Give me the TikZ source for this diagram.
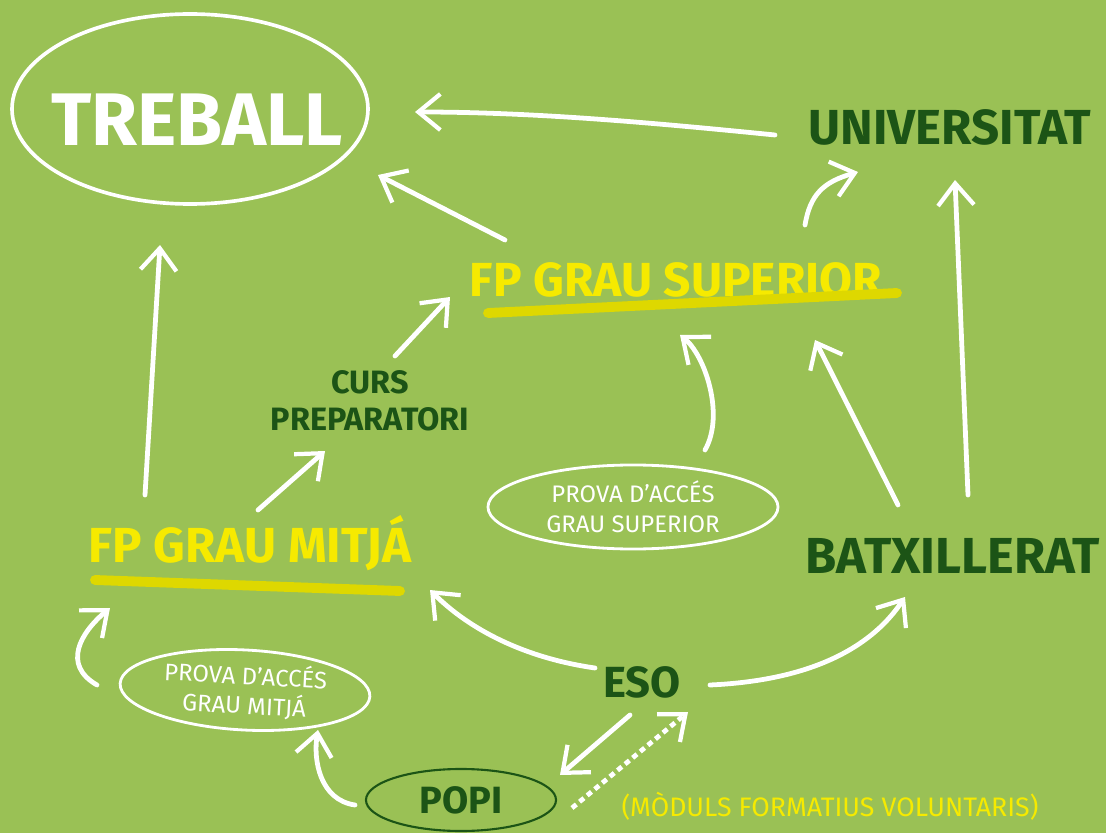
\documentclass[tikz,border=0pt]{standalone}
\usepackage{fontspec}
\setmainfont{Fira Sans}
\usetikzlibrary{arrows.meta,shapes.geometric}
\definecolor{pissarra}{RGB}{154,193,85}
\definecolor{fosc}{RGB}{28,84,22}
\definecolor{groc}{RGB}{246,234,0}
\definecolor{subratlla}{RGB}{222,216,0}

\begin{document}
\begin{tikzpicture}[x=0.025cm,y=-0.025cm]%
  \tikzstyle{fletxa}=[draw=white,line width=3.4pt,line cap=round,
    -{Straight Barb[length=5.5mm,width=9mm,line width=3pt]}]
  \tikzstyle{puntejat}=[fletxa,dash pattern=on 4pt off 3pt,line cap=butt]
  \tikzstyle{elip}=[ellipse,draw=white,line width=2pt,text=white,align=center,inner sep=0]
  \tikzstyle{verd}=[text=fosc,font=\bfseries]
  \tikzstyle{groga}=[text=groc,font=\bfseries]
  \useasboundingbox (0,0) rectangle (1106,833);
  \fill[pissarra] (0,0) rectangle (1106,833);
  % nodes
  \node(trb)[text=white,font=\bfseries\fontsize{53}{53}\selectfont] at (197,120) {TREBALL};
  \draw[white,line width=2.6pt] ([shift={(-7,-11)}]trb.center) ellipse [x radius=178,y radius=95];
  \node(uni)[verd,font=\bfseries\fontsize{35}{35}\selectfont] at (950,127) {UNIVERSITAT};
  \node(sup)[groga,font=\bfseries\fontsize{34}{34}\selectfont] at (676,280) {FP GRAU SUPERIOR};
  \node(curs)[verd,align=center,font=\bfseries\fontsize{23}{26}\selectfont] at (370,401) {CURS\\PREPARATORI};
  \node(mit)[groga,font=\bfseries\fontsize{35}{35}\selectfont] at (250,543) {FP GRAU MITJÁ};
  \node(pgs)[elip,minimum width=7.25cm,minimum height=2.1cm,font=\fontsize{17}{21}\selectfont] at (633,507) {PROVA D'ACCÉS\\GRAU SUPERIOR};
  \node(bat)[verd,font=\bfseries\fontsize{36}{36}\selectfont] at (953,556) {BATXILLERAT};
  \node(pgm)[elip,rotate=-3,minimum width=6.25cm,minimum height=2cm,font=\fontsize{17}{21}\selectfont] at (245,690) {PROVA D'ACCÉS\\GRAU MITJÁ};
  \node(eso)[verd,font=\bfseries\fontsize{31}{31}\selectfont] at (642,682) {ESO};
  \node(popi)[ellipse,draw=fosc,line width=1.5pt,minimum width=4.75cm,minimum height=1.55cm,verd,font=\bfseries\fontsize{27}{27}\selectfont] at (461,800) {POPI};
  \node(mod)[groga,font=\fontsize{19}{19}\selectfont] at (830,806) {(MÒDULS FORMATIUS VOLUNTARIS)};
  % subratllats
  \draw[subratlla,line width=7pt,line cap=round] (488,313) -- (897,293);
  \draw[subratlla,line width=7pt,line cap=round] (95,580) -- (400,591);
  % fletxes
  \draw[fletxa] ([shift={(-175,8)}]uni.center) .. controls +(-120,-12) and +(120,0) .. ([shift={(218,-8)}]trb.center);
  \draw[fletxa] ([shift={(-171,-40)}]sup.center) -- ([shift={(181,55)}]trb.center);
  \draw[fletxa] ([shift={(-105,-48)}]mit.center) -- ([shift={(-37,125)}]trb.center);
  \draw[fletxa] ([shift={(8,-33)}]mit.center) -- ([shift={(-45,50)}]curs.center);
  \draw[fletxa] ([shift={(25,-45)}]curs.center) -- ([shift={(-226,17)}]sup.center);
  \draw[fletxa] ([shift={(129,-55)}]sup.center) .. controls +(5,-30) and +(-35,10) .. ([shift={(-92,45)}]uni.center);
  \draw[fletxa] ([shift={(15,-61)}]bat.center) -- ([shift={(5,53)}]uni.center);
  \draw[fletxa] ([shift={(-55,-51)}]bat.center) -- ([shift={(139,60)}]sup.center);
  \draw[fletxa] ([shift={(72,-57)}]pgs.center) .. controls +(20,-35) and +(25,20) .. ([shift={(4,55)}]sup.center);
  \draw[fletxa] ([shift={(-47,-14)}]eso.center) .. controls +(-70,-10) and +(40,40) .. ([shift={(180,47)}]mit.center);
  \draw[fletxa] ([shift={(68,3)}]eso.center) .. controls +(110,-5) and +(-30,45) .. ([shift={(-48,41)}]bat.center);
  \draw[fletxa] ([shift={(-148,-5)}]pgm.center) .. controls +(-35,-20) and +(-30,25) .. ([shift={(-140,65)}]mit.center);
  \draw[fletxa] ([shift={(-106,5)}]popi.center) .. controls +(-35,-5) and +(-5,30) .. ([shift={(73,40)}]pgm.center);
  \draw[fletxa] ([shift={(-12,33)}]eso.center) -- ([shift={(99,-25)}]popi.center);
  \draw[puntejat] ([shift={(111,8)}]popi.center) -- ([shift={(46,30)}]eso.center);
\end{tikzpicture}
\end{document}
